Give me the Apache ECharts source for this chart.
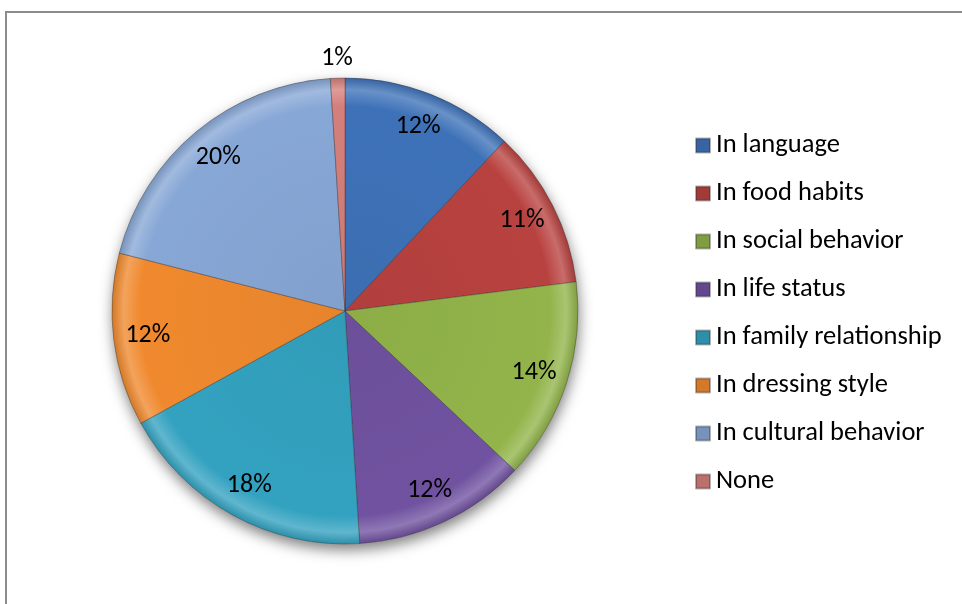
<!DOCTYPE html>
<html>
<head>
<meta charset="utf-8">
<script src="https://cdn.jsdelivr.net/npm/echarts@6/dist/echarts.min.js"></script>
<style>
  html, body { margin: 0; padding: 0; background: #fff; }
  #frame { position: absolute; left: 5px; top: 11px; width: 1000px; height: 700px;
           border-left: 2px solid #8c8c8c; border-top: 2px solid #8c8c8c; box-sizing: border-box; }
  #chart { position: absolute; left: 0; top: 0; width: 962px; height: 604px; }
</style>
</head>
<body>
<div id="frame"></div>
<div id="chart"></div>
<script>
// Categories and their shares (percent)
const categories = [
  'In language', 'In food habits', 'In social behavior', 'In life status',
  'In family relationship', 'In dressing style', 'In cultural behavior', 'None'
];
const shares = [12, 11, 14, 12, 18, 12, 20, 1];
const colors = ['#3E72B8', '#B84240', '#92B44A', '#7052A0', '#33A2C0', '#F0892E', '#87A7D6', '#D47F7C'];

const CX = 345, CY = 311, R = 233;
const FONT = 'Carlito, Calibri, Lato, "Open Sans", sans-serif';

function shade(hex, f) {
  const n = parseInt(hex.slice(1), 16);
  let r = (n >> 16) & 255, g = (n >> 8) & 255, b = n & 255;
  const m = v => Math.max(0, Math.min(255, Math.round(f >= 0 ? v + (255 - v) * f : v * (1 + f))));
  return `rgb(${m(r)},${m(g)},${m(b)})`;
}

// bevel-like fill: flat body, bright rim, darker edge
function fill(hex) {
  return {
    type: 'radial', x: CX, y: CY, r: R, global: true,
    colorStops: [
      { offset: 0, color: shade(hex, -0.04) },
      { offset: 0.88, color: hex },
      { offset: 0.95, color: shade(hex, 0.22) },
      { offset: 1, color: shade(hex, -0.12) }
    ]
  };
}

const pieData = categories.map((name, i) => ({
  name, value: shares[i],
  itemStyle: { color: fill(colors[i]) }
}));

const labelStyle = { color: '#000', fontSize: 26, fontFamily: FONT };

const chart = echarts.init(document.getElementById('chart'), null, { renderer: 'canvas' });
chart.setOption({
  animation: false,
  color: colors,
  legend: {
    data: categories,
    orient: 'vertical',
    left: 690, top: 127,
    itemWidth: 14, itemHeight: 14, itemGap: 21,
    icon: 'rect',
    textStyle: { color: '#000', fontSize: 26.5, fontFamily: FONT, padding: [0, 0, 0, 1] }
  },
  series: [
    {
      // soft drop shadow under the whole pie
      type: 'pie', silent: true, z: 1,
      center: [CX, CY], radius: [0, R],
      label: { show: false }, labelLine: { show: false },
      data: [{ name: '_shadow', value: 1, itemStyle: { color: '#bbb', shadowColor: 'rgba(0,0,0,0.5)', shadowBlur: 14, shadowOffsetY: 6, shadowOffsetX: 1 } }]
    },
    {
      type: 'pie', z: 2,
      center: [CX, CY], radius: [0, R],
      startAngle: 90, clockwise: true,
      label: { show: false }, labelLine: { show: false },
      itemStyle: { borderColor: 'rgba(40,40,40,0.35)', borderWidth: 1 },
      emphasis: { disabled: true },
      data: pieData
    },
    {
      // value labels sitting near the rim of each slice
      type: 'pie', z: 3, silent: true,
      center: [CX, CY], radius: [R * 0.68, R],
      startAngle: 90, clockwise: true,
      itemStyle: { color: 'transparent' },
      labelLine: { show: false },
      label: Object.assign({ show: true, position: 'inside', formatter: '{c}%' }, labelStyle),
      data: categories.map((name, i) => ({
        name, value: shares[i],
        label: { show: name !== 'None' }
      }))
    },
    {
      // label for the thin slice, just beyond the rim
      type: 'pie', z: 3, silent: true,
      center: [CX, CY], radius: [R, R + 34],
      startAngle: 90, clockwise: true,
      itemStyle: { color: 'transparent' },
      labelLine: { show: false },
      label: Object.assign({ show: true, position: 'inside', formatter: '{c}%' }, labelStyle),
      data: categories.map((name, i) => ({
        name, value: shares[i],
        label: { show: name === 'None' }
      }))
    }
  ]
});
</script>
</body>
</html>
